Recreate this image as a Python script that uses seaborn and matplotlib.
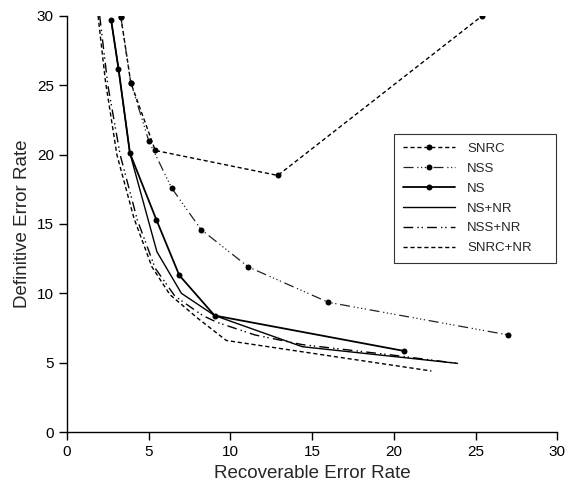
import pandas as pd
import numpy as np
import seaborn as sns
import matplotlib.pyplot as plt

# values
snrc_x = [3.3, 3.9, 5.4, 12.9, 25.4]
snrc_y = [29.9, 25.2, 20.3, 18.5, 30.0]
nss_x = [3.3, 3.9, 5.0, 6.4, 8.2, 11.1, 16.0, 27.0]
nss_y = [29.9, 25.2, 21.0, 17.6, 14.6, 11.9, 9.35, 7.0]
ns_x = [2.7, 3.15, 3.85, 5.47, 6.87, 9.03, 20.6]
ns_y = [29.7, 26.2, 20.1, 15.3, 11.3, 8.4, 5.85]
nsnr_x = [2.7, 3.15, 3.85, 5.5, 7.0, 9.03, 14.4, 23.9]
nsnr_y = [29.7, 26.2, 20.1, 13.0, 10.0, 8.4, 6.15, 4.95]
nssnr_x = [2.0, 2.5, 3.25, 4.3, 5.4, 6.6, 8.3, 9.2, 11.5, 14.4, 19.9, 23.9]
nssnr_y = [30.0, 25.0, 20.0, 15.3, 11.8, 9.8, 8.4, 7.9, 7.0, 6.3, 5.55, 4.95]
snrcnr_x = [1.9, 2.35, 3.05, 4.1, 5.2, 6.3, 8.0, 9.75, 22.3]
snrcnr_y = [30.0, 25.3, 20.0, 15.4, 11.9, 9.9, 8.2, 6.6, 4.4]

series = ["SNRC", "NSS", "NS", "NS+NR", "NSS+NR", "SNRC+NR"]
xs = [snrc_x, nss_x, ns_x, nsnr_x, nssnr_x, snrcnr_x]
ys = [snrc_y, nss_y, ns_y, nsnr_y, nssnr_y, snrcnr_y]

styles = {
    "SNRC": dict(linestyle=(0, (3, 2)), marker="o", lw=1.0, color="black"),
    "NSS": dict(linestyle=(0, (8, 3, 1, 2, 1, 2, 1, 2, 1, 3)), marker="o", lw=0.9, color="#222222"),
    "NS": dict(linestyle="-", marker="o", lw=1.3, color="black"),
    "NS+NR": dict(linestyle="-", marker=None, lw=1.0, color="black"),
    "NSS+NR": dict(linestyle=(0, (7, 3, 1, 2, 1, 3)), marker=None, lw=1.0, color="black"),
    "SNRC+NR": dict(linestyle=(0, (3, 2)), marker=None, lw=1.0, color="black"),
}

rows = []
for name, x, y in zip(series, xs, ys):
    for i, (a, b) in enumerate(zip(x, y)):
        rows.append({"series": name, "order": i, "rate_rec": a, "rate_def": b})
df = pd.DataFrame(rows)

sns.set_style("ticks")
plt.rcParams["font.family"] = ["Liberation Sans", "DejaVu Sans"]

fig = plt.figure(figsize=(5.68, 4.98), dpi=100)
ax = fig.add_axes([0.118, 0.1325, 0.863, 0.8355])

for name in series:
    sub = df[df["series"] == name]
    st = styles[name]
    sns.lineplot(data=sub, x="rate_rec", y="rate_def", ax=ax, sort=False,
                 estimator=None, color=st["color"], linestyle=st["linestyle"],
                 marker=st["marker"], markersize=4.3, markeredgewidth=0,
                 markerfacecolor="black", lw=st["lw"], label=name)

ax.set_xlim(0, 30)
ax.set_ylim(0, 30)
ax.set_xticks(range(0, 31, 5))
ax.set_yticks(range(0, 31, 5))
ax.tick_params(labelsize=11, length=6, width=1, colors="black")
ax.set_xlabel("Recoverable Error Rate", fontsize=13.5)
ax.set_ylabel("Definitive Error Rate", fontsize=13.5)
for s in ["left", "bottom"]:
    ax.spines[s].set_color("black")
    ax.spines[s].set_linewidth(1)
sns.despine(ax=ax)

leg = ax.legend(loc="upper left", bbox_to_anchor=(0.667, 0.401, 0.331, 0.315),
                mode="expand", borderaxespad=0, fontsize=9.5,
                frameon=True, fancybox=False, handlelength=4.0,
                borderpad=0.65, labelspacing=0.58, handletextpad=0.9)
leg.get_frame().set_edgecolor("black")
leg.get_frame().set_linewidth(0.8)

fig.savefig("out.png", dpi=100)
